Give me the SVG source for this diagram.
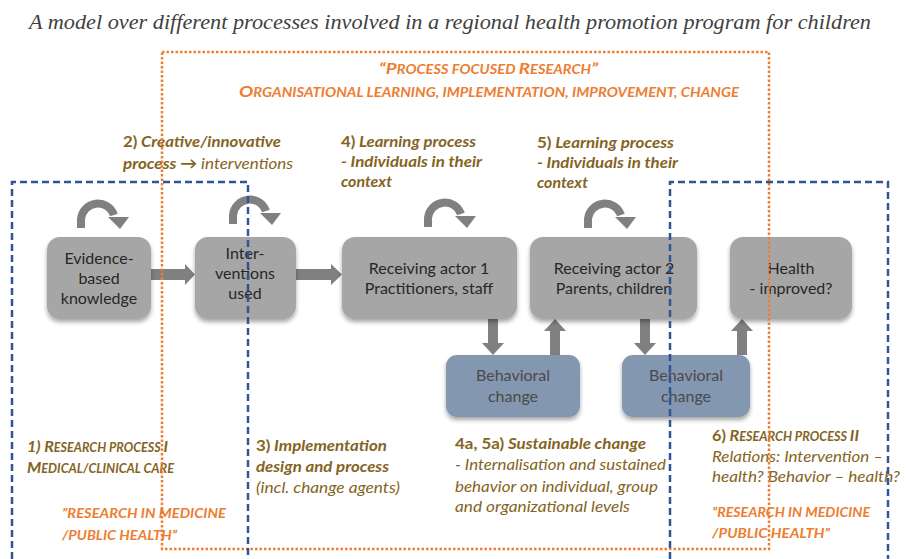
<svg xmlns="http://www.w3.org/2000/svg" width="906" height="559" viewBox="0 0 906 559">
<defs>
<filter id="sh" x="-10%" y="-10%" width="120%" height="130%">
<feDropShadow dx="0" dy="3" stdDeviation="2" flood-color="#000" flood-opacity="0.35"/>
</filter>
<g id="loop">
<path d="M-17 9 V0 A17 17 0 0 1 16 -4" fill="none" stroke="#808080" stroke-width="8"/>
<polygon points="10,-2 31,-2 22,10" fill="#808080"/>
</g>
</defs>
<style>
text{font-family:Lato,"Open Sans","Liberation Sans",sans-serif}
.title{font-family:"Liberation Serif",serif;font-style:italic;font-size:22px;fill:#404040}
.node{fill:#a6a6a6;filter:url(#sh)}
.beh{fill:#8497b0;filter:url(#sh)}
.nt{font-size:16px;fill:#262626;text-anchor:middle}
.bt{font-size:16px;fill:#4a4a4a;text-anchor:middle}
.br{font-size:16px;fill:#846423;font-style:italic}
.b{font-weight:bold}
.n{font-weight:normal}
.up{font-style:normal}
.or{font-size:16px;fill:#ed7d31;font-style:italic;font-weight:bold}
.sc{font-size:12.5px}
.arr{fill:#808080}
.blue{fill:none;stroke:#2f5597;stroke-width:2.5;stroke-dasharray:7 4}
.orange{fill:none;stroke:#ed7d31;stroke-width:2.5;stroke-dasharray:2.5 2}
</style>
<rect width="906" height="559" fill="#ffffff"/>
<text class="title" x="29" y="29" textLength="842" lengthAdjust="spacingAndGlyphs">A model over different processes involved in a regional health promotion program for children</text>

<g id="loops">
<use href="#loop" x="98" y="219"/>
<use href="#loop" x="250" y="215"/>
<use href="#loop" x="445" y="218"/>
<use href="#loop" x="605" y="219"/>
</g>

<g id="connectors">
<polygon class="arr" points="151,269 185,269 185,264 195,274.5 185,285 185,280 151,280"/>
<polygon class="arr" points="296,269 331,269 331,264 342,274.5 331,285 331,280 296,280"/>
<polygon class="arr" points="488,319 498,319 498,343 504,343 493,355 482,343 488,343"/>
<polygon class="arr" points="550,355 560,355 560,331 566,331 555,319 544,331 550,331"/>
<polygon class="arr" points="640,319 650,319 650,343 656,343 645,355 634,343 640,343"/>
<polygon class="arr" points="737,355 747,355 747,331 753,331 742,319 731,331 737,331"/>
</g>

<g id="evidence">
<rect class="node" x="47" y="237" width="104" height="82" rx="13"/>
<text class="nt" x="99" y="264">Evidence-</text>
<text class="nt" x="99" y="284">based</text>
<text class="nt" x="99" y="304">knowledge</text>
</g>
<g id="interventions">
<rect class="node" x="195" y="237" width="101" height="82" rx="13"/>
<text class="nt" x="245" y="259">Inter-</text>
<text class="nt" x="245" y="279">ventions</text>
<text class="nt" x="245" y="299">used</text>
</g>
<g id="actor1">
<rect class="node" x="342" y="237" width="175" height="82" rx="13"/>
<text class="nt" x="429" y="274">Receiving actor 1</text>
<text class="nt" x="429" y="294">Practitioners, staff</text>
</g>
<g id="actor2">
<rect class="node" x="530" y="237" width="167" height="82" rx="13"/>
<text class="nt" x="614" y="274">Receiving actor 2</text>
<text class="nt" x="614" y="294">Parents, children</text>
</g>
<g id="health">
<rect class="node" x="730" y="237" width="122" height="82" rx="13"/>
<text class="nt" x="791" y="274">Health</text>
<text class="nt" x="791" y="294">- improved?</text>
</g>
<g id="behavior1">
<rect class="beh" x="446" y="355" width="134" height="62" rx="11"/>
<text class="bt" x="513" y="381">Behavioral</text>
<text class="bt" x="513" y="402">change</text>
</g>
<g id="behavior2">
<rect class="beh" x="622" y="355" width="128" height="62" rx="11"/>
<text class="bt" x="686" y="381">Behavioral</text>
<text class="bt" x="686" y="402">change</text>
</g>

<g id="labels">
<text class="or" x="379" y="74" textLength="219" lengthAdjust="spacingAndGlyphs">“P<tspan class="sc">ROCESS FOCUSED </tspan>R<tspan class="sc">ESEARCH</tspan>”</text>
<text class="or" x="239" y="97" textLength="500" lengthAdjust="spacingAndGlyphs">O<tspan class="sc">RGANISATIONAL LEARNING, IMPLEMENTATION, IMPROVEMENT, CHANGE</tspan></text>

<text class="br b" x="123" y="147" textLength="158" lengthAdjust="spacingAndGlyphs"><tspan class="up">2)</tspan> Creative/innovative</text>
<text class="br" x="123" y="169" textLength="170" lengthAdjust="spacingAndGlyphs"><tspan class="b">process →</tspan> interventions</text>

<text class="br b" x="341" y="147" textLength="135" lengthAdjust="spacingAndGlyphs"><tspan class="up">4)</tspan> Learning process</text>
<text class="br b" x="341" y="167" textLength="141" lengthAdjust="spacingAndGlyphs">- Individuals in their</text>
<text class="br b" x="341" y="187" textLength="51" lengthAdjust="spacingAndGlyphs">context</text>

<text class="br b" x="537" y="148" textLength="137" lengthAdjust="spacingAndGlyphs"><tspan class="up">5)</tspan> Learning process</text>
<text class="br b" x="537" y="168" textLength="141" lengthAdjust="spacingAndGlyphs">- Individuals in their</text>
<text class="br b" x="537" y="188" textLength="51" lengthAdjust="spacingAndGlyphs">context</text>

<text class="br b" x="27" y="452" textLength="141" lengthAdjust="spacingAndGlyphs">1) R<tspan class="sc">ESEARCH PROCESS </tspan>I</text>
<text class="br b" x="27" y="473" textLength="147" lengthAdjust="spacingAndGlyphs">M<tspan class="sc">EDICAL/CLINICAL CARE</tspan></text>
<text class="or" x="62" y="518" textLength="164" lengthAdjust="spacingAndGlyphs"><tspan class="sc">”RESEARCH IN MEDICINE</tspan></text>
<text class="or" x="62" y="540" textLength="115" lengthAdjust="spacingAndGlyphs"><tspan class="sc">/PUBLIC HEALTH”</tspan></text>

<text class="br b" x="256" y="451" textLength="131" lengthAdjust="spacingAndGlyphs"><tspan class="up">3)</tspan> Implementation</text>
<text class="br b" x="256" y="472" textLength="133" lengthAdjust="spacingAndGlyphs">design and process</text>
<text class="br" x="256" y="493" textLength="144" lengthAdjust="spacingAndGlyphs">(incl. change agents)</text>

<text class="br b" x="455" y="449" textLength="191" lengthAdjust="spacingAndGlyphs"><tspan class="up">4a, 5a)</tspan> Sustainable change</text>
<text class="br" x="455" y="470" textLength="211" lengthAdjust="spacingAndGlyphs">- Internalisation and sustained</text>
<text class="br" x="455" y="492" textLength="203" lengthAdjust="spacingAndGlyphs">behavior on individual, group</text>
<text class="br" x="455" y="512" textLength="175" lengthAdjust="spacingAndGlyphs">and organizational levels</text>

<text class="br b" x="712" y="441" textLength="147" lengthAdjust="spacingAndGlyphs"><tspan class="up">6)</tspan> R<tspan class="sc">ESEARCH PROCESS </tspan>II</text>
<text class="br" x="712" y="462" textLength="171" lengthAdjust="spacingAndGlyphs">Relations: Intervention –</text>
<text class="br" x="712" y="482" textLength="188" lengthAdjust="spacingAndGlyphs">health? Behavior  – health?</text>
<text class="or" x="712" y="517" textLength="158" lengthAdjust="spacingAndGlyphs"><tspan class="sc">”RESEARCH IN MEDICINE</tspan></text>
<text class="or" x="712" y="538" textLength="118" lengthAdjust="spacingAndGlyphs"><tspan class="sc">/PUBLIC HEALTH”</tspan></text>
</g>

<g id="frames">
<rect class="orange" x="162" y="52" width="607" height="497"/>
<path class="blue" d="M12 559 V182 H248 V559"/>
<path class="blue" d="M670 559 V182 H888 V559"/>
</g>
</svg>
